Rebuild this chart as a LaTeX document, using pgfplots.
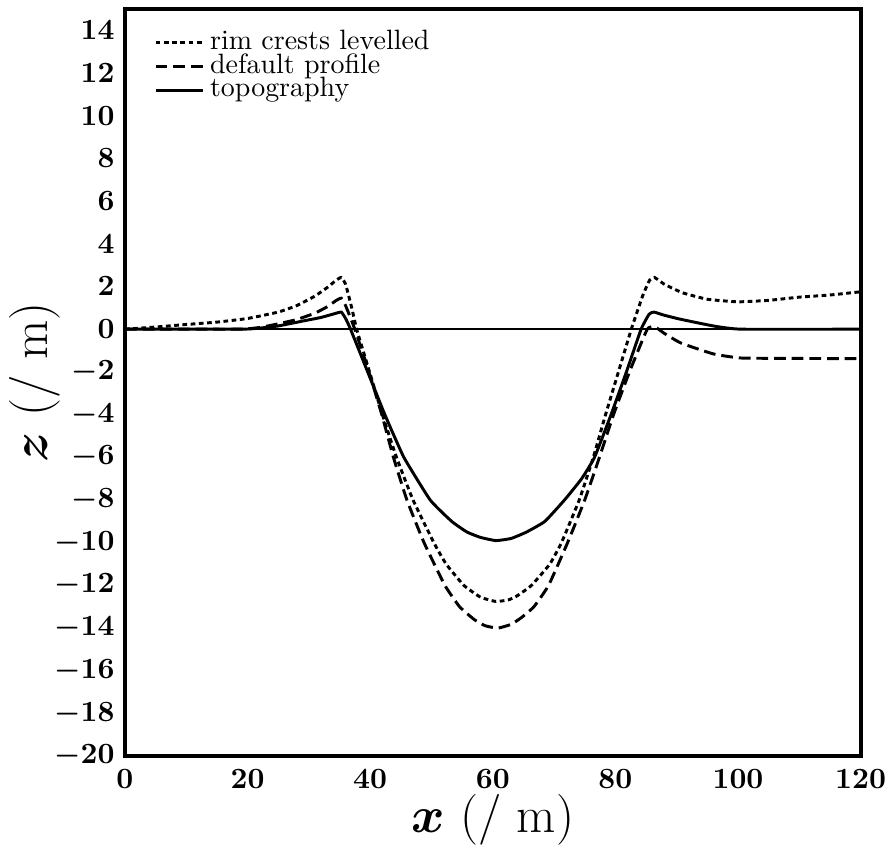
\documentclass[border=0pt]{standalone}
\usepackage{pgfplots}
\pgfplotsset{compat=1.18}
\begin{document}
\begin{tikzpicture}
\begin{axis}[
  scale only axis,
  width=250pt, height=254pt,
  xmin=0, xmax=120, ymin=-20, ymax=15,
  xtick={0,20,...,120},
  ytick={-20,-18,...,14},
  major tick length=0pt,
  axis line style={line width=1.3pt},
  tick label style={font=\boldmath\normalsize},
  xticklabel style={yshift=-1pt, inner xsep=0pt},
  xlabel={{\boldmath$x$} (/ m)},
  ylabel={{\boldmath$z$} (/ m)},
  label style={font=\LARGE},
  xlabel style={yshift=5pt},
  ylabel style={yshift=-9pt},
  legend style={draw=none, fill=none, at={(0.035,0.975)}, anchor=north west,
    font=\fontsize{9.5}{10}\selectfont, row sep=0pt, inner sep=1pt,
    nodes={text height=6.2pt, text depth=1.9pt, inner ysep=0pt}},
  legend cell align=left,
  legend image code/.code={\draw[#1] (0pt,0pt) -- (16pt,0pt);},
  clip=true,
  after end axis/.code={\path (rel axis cs:0,1) ++(0,3pt);},
]
\addplot[black, line width=1pt, dash pattern=on 1.6pt off 1.2pt, smooth, tension=0.25] coordinates {
(0,0) (5,0.1) (10,0.22) (15,0.33) (20,0.5) (25,0.8) (28,1.1) (31,1.55) (33,1.95) (34.5,2.3) (35.3,2.42) (36,2.1) (37,1.0) (37.8,0) (39.9,-2) (42.0,-4) (44.3,-6) (47.0,-8) (50.4,-10) (52.4,-11) (55.3,-12) (58,-12.55) (60.5,-12.75) (62.5,-12.68) (63.9,-12.5) (66.3,-12) (69.3,-11) (71.2,-10) (74.1,-8) (76.4,-6) (78.4,-4) (80.5,-2) (82.6,0) (84.5,1.6) (85.6,2.3) (86.4,2.42) (88,2.1) (91,1.7) (95,1.4) (100,1.28) (105,1.35) (110,1.5) (115,1.6) (120,1.75)
};
\addlegendentry{rim crests levelled}
\addplot[black, line width=1pt, dash pattern=on 4pt off 2pt, smooth, tension=0.25] coordinates {
(0,0) (10,0) (19,0) (22,0.08) (25,0.25) (28,0.45) (31,0.75) (33,1.05) (34.5,1.35) (35.3,1.45) (36,1.1) (37.5,0) (39.8,-2) (41.9,-4) (43.8,-6) (46,-8) (48.8,-10) (52.2,-12) (54.6,-13) (57,-13.6) (58.7,-13.88) (60.8,-14) (63,-13.82) (64.7,-13.5) (66.7,-13) (69.1,-12) (72.2,-10) (75,-8) (77.4,-6) (79.7,-4) (82.3,-2) (85.2,0) (86.5,0.1) (88,-0.2) (90.7,-0.65) (96,-1.16) (100.5,-1.35) (110,-1.37) (120,-1.38)
};
\addlegendentry{default profile}
\addplot[black, line width=1pt, smooth, tension=0.25] coordinates {
(0,0) (19,0) (22,0.05) (25,0.15) (29,0.38) (32,0.55) (34.5,0.75) (35.3,0.8) (36,0.5) (36.8,0) (39.6,-2) (42.4,-4) (45.5,-6) (49.8,-8) (53.3,-9) (55.8,-9.5) (58,-9.75) (60.5,-9.9) (63,-9.8) (65.5,-9.5) (68.5,-9) (71.7,-8) (74.5,-7) (76.6,-6) (79.3,-4) (81.8,-2) (84.2,0) (85.5,0.7) (86.3,0.8) (88,0.65) (90.7,0.46) (96,0.15) (100.5,0) (120,0)
};
\addlegendentry{topography}
\addplot[black, line width=0.5pt, forget plot] coordinates {(0,0) (120,0)};
\end{axis}
\end{tikzpicture}
\end{document}
